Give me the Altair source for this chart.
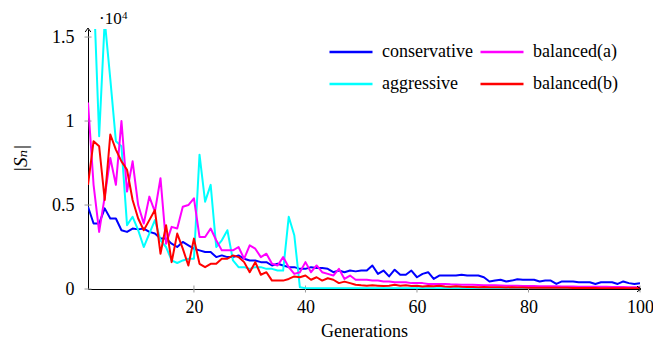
import altair as alt
import pandas as pd

gens = list(range(1, 101))

conservative = [
    0.49, 0.39, 0.39, 0.48, 0.42, 0.42, 0.35, 0.34, 0.36, 0.355,
    0.36, 0.34, 0.33, 0.30, 0.30, 0.27, 0.25, 0.28, 0.26, 0.24,
    0.23, 0.22, 0.22, 0.19, 0.20, 0.19, 0.19, 0.20, 0.18, 0.17,
    0.17, 0.16, 0.16, 0.14, 0.15, 0.14, 0.13, 0.13, 0.12, 0.12,
    0.13, 0.125, 0.125, 0.12, 0.10, 0.11, 0.10, 0.11, 0.105, 0.11,
    0.11, 0.14, 0.09, 0.11, 0.075, 0.115, 0.085, 0.085, 0.11, 0.07,
    0.09, 0.10, 0.06, 0.08, 0.08, 0.08, 0.08, 0.085, 0.08, 0.08,
    0.08, 0.07, 0.045, 0.05, 0.055, 0.045, 0.05, 0.058, 0.055, 0.055,
    0.055, 0.045, 0.05, 0.05, 0.03, 0.045, 0.045, 0.045, 0.04, 0.04,
    0.04, 0.03, 0.04, 0.04, 0.04, 0.03, 0.045, 0.035, 0.03, 0.035,
]

aggressive = [
    2.5, 1.8, 0.91, 1.6, 1.25, 0.88, 0.85, 0.38, 0.43, 0.35,
    0.25, 0.33, 0.41, 0.29, 0.25, 0.17, 0.155, 0.17, 0.18, 0.18,
    0.80, 0.52, 0.62, 0.25, 0.29, 0.35, 0.17, 0.13, 0.13, 0.12,
    0.13, 0.13, 0.12, 0.12, 0.11, 0.11, 0.43, 0.32, 0.01, 0.005,
    0.005, 0.005, 0.005, 0.005, 0.005, 0.005, 0.005, 0.005, 0.005, 0.005,
    0.004, 0.004, 0.004, 0.004, 0.004, 0.004, 0.004, 0.004, 0.004, 0.004,
    0.004, 0.004, 0.004, 0.004, 0.004, 0.004, 0.004, 0.004, 0.004, 0.004,
    0.003, 0.003, 0.003, 0.003, 0.003, 0.003, 0.003, 0.003, 0.003, 0.003,
    0.003, 0.003, 0.003, 0.003, 0.003, 0.003, 0.003, 0.003, 0.003, 0.003,
    0.002, 0.002, 0.002, 0.002, 0.002, 0.002, 0.002, 0.002, 0.002, 0.002,
]

balanced_a = [
    1.11, 0.62, 0.34, 0.55, 0.78, 0.62, 1.0, 0.58, 0.76, 0.50,
    0.39, 0.55, 0.46, 0.66, 0.27, 0.37, 0.36, 0.49, 0.50, 0.54,
    0.31, 0.31, 0.36, 0.29, 0.23, 0.23, 0.23, 0.25, 0.18, 0.26,
    0.24, 0.19, 0.21, 0.15, 0.14, 0.19, 0.13, 0.09, 0.10, 0.16,
    0.10, 0.14, 0.10, 0.09, 0.08, 0.12, 0.06, 0.08, 0.055, 0.055,
    0.055, 0.05, 0.05, 0.045, 0.045, 0.04, 0.04, 0.04, 0.035, 0.035,
    0.035, 0.03, 0.03, 0.03, 0.03, 0.028, 0.027, 0.026, 0.025, 0.025,
    0.024, 0.023, 0.022, 0.022, 0.021, 0.02, 0.02, 0.019, 0.018, 0.018,
    0.018, 0.017, 0.017, 0.016, 0.016, 0.015, 0.015, 0.015, 0.014, 0.014,
    0.014, 0.013, 0.013, 0.013, 0.012, 0.012, 0.012, 0.011, 0.011, 0.011,
]

balanced_b = [
    0.62, 0.88, 0.85, 0.53, 0.92, 0.83, 0.76, 0.71, 0.53, 0.42,
    0.35, 0.41, 0.47, 0.21, 0.38, 0.16, 0.33, 0.24, 0.14, 0.30,
    0.15, 0.13, 0.15, 0.15, 0.18, 0.18, 0.20, 0.19, 0.16, 0.10,
    0.16, 0.085, 0.10, 0.05, 0.05, 0.05, 0.06, 0.075, 0.07, 0.08,
    0.055, 0.07, 0.05, 0.064, 0.055, 0.035, 0.044, 0.035, 0.025, 0.022,
    0.02, 0.022, 0.02, 0.018, 0.02, 0.025, 0.02, 0.022, 0.018, 0.02,
    0.015, 0.018, 0.016, 0.02, 0.015, 0.014, 0.016, 0.013, 0.012, 0.012,
    0.011, 0.012, 0.01, 0.011, 0.01, 0.009, 0.01, 0.009, 0.009, 0.008,
    0.008, 0.008, 0.007, 0.008, 0.007, 0.007, 0.007, 0.006, 0.006, 0.006,
    0.006, 0.006, 0.005, 0.005, 0.005, 0.005, 0.005, 0.005, 0.005, 0.005,
]

series_names = ["conservative", "aggressive", "balanced(a)", "balanced(b)"]
series_colors = ["#0000ff", "#00ffff", "#ff00ff", "#ff0000"]
y_tick_values = [0, 5000, 10000, 15000]
x_tick_values = [20, 40, 60, 80, 100]

rows = []
for name, vals in zip(series_names, [conservative, aggressive, balanced_a, balanced_b]):
    for g, v in zip(gens, vals):
        rows.append({"gen": g, "series": name, "series_b": name, "value": v * 10000})
df = pd.DataFrame(rows)

FONT = "Liberation Serif, Times New Roman, DejaVu Serif, serif"
W, H = 552, 260

x_scale = alt.Scale(domain=[1, 100], nice=False, zero=False)
y_scale = alt.Scale(domain=[0, 15480], nice=False)
scale_left = alt.Scale(domain=series_names[:2], range=series_colors[:2])
scale_right = alt.Scale(domain=series_names[2:], range=series_colors[2:])

x_axis = alt.Axis(values=x_tick_values, title="Generations", grid=False, ticks=False,
                  tickSize=0, labelFont=FONT, labelFontSize=18, labelPadding=9,
                  labelFlush=False, labelColor="black", domainColor="black",
                  titleFont=FONT, titleFontSize=18, titleFontWeight="normal",
                  titleColor="black", titleY=42, titleBaseline="middle")
y_axis = alt.Axis(values=y_tick_values, labelExpr="'' + datum.value/10000",
                  title="|Sₙ|", grid=False, ticks=False, tickSize=0,
                  labelFont=FONT, labelFontSize=18, labelPadding=14,
                  labelColor="black", domainColor="black", labelBaseline="middle",
                  titleFont=FONT, titleFontSize=19, titleFontWeight="normal",
                  titleFontStyle="italic", titleColor="black",
                  titleX=-68, titleY=129, titleAngle=-90,
                  titleAlign="center", titleBaseline="middle")


def make_legend(lx):
    return alt.Legend(orient="none", legendX=lx, legendY=0, direction="vertical",
                      symbolType="stroke", symbolSize=1849, symbolStrokeWidth=2.5,
                      labelFont=FONT, labelFontSize=18, labelColor="black",
                      title=None, rowPadding=-3, labelOffset=8,
                      padding=0, labelLimit=0)


layers = []

# tick marks crossing the axes
ytick_df = pd.DataFrame({"value": y_tick_values})
layers.append(alt.Chart(ytick_df).mark_rule(color="#9a9a9a", strokeWidth=1).encode(
    y=alt.Y("value:Q", scale=y_scale, axis=y_axis),
    x=alt.value(-3.5), x2=alt.value(3.5)))
xtick_df = pd.DataFrame({"gen": x_tick_values})
layers.append(alt.Chart(xtick_df).mark_rule(color="#9a9a9a", strokeWidth=1).encode(
    x=alt.X("gen:Q", scale=x_scale, axis=x_axis),
    y=alt.value(H - 3.5), y2=alt.value(H + 3.5)))

for name in series_names:
    base = (alt.Chart(df).transform_filter(alt.datum.series == name)
            .mark_line(strokeWidth=2, clip=True, strokeJoin="round"))
    if name in series_names[:2]:
        enc = dict(color=alt.Color("series:N", scale=scale_left, legend=make_legend(240)))
    else:
        enc = dict(stroke=alt.Stroke("series_b:N", scale=scale_right, legend=make_legend(391)))
    layers.append(base.encode(
        x=alt.X("gen:Q", scale=x_scale, axis=x_axis),
        y=alt.Y("value:Q", scale=y_scale, axis=y_axis),
        **enc,
    ))

one = pd.DataFrame({"a": [0]})
layers.append(alt.Chart(one).mark_point(shape="M-0.7,1L0,0L0.7,1", filled=False,
                                        color="black", strokeWidth=1, size=64, opacity=1)
              .encode(x=alt.value(0), y=alt.value(-1)))
layers.append(alt.Chart(one).mark_point(shape="M-1,-0.7L0,0L-1,0.7", filled=False,
                                        color="black", strokeWidth=1, size=64, opacity=1)
              .encode(x=alt.value(W + 1), y=alt.value(H)))
layers.append(alt.Chart(one).mark_text(text="·10", font=FONT, fontSize=17, align="left",
                                       baseline="alphabetic", color="black")
              .encode(x=alt.value(11), y=alt.value(-5)))
layers.append(alt.Chart(one).mark_text(text="4", font=FONT, fontSize=11, align="left",
                                       baseline="alphabetic", color="black")
              .encode(x=alt.value(34), y=alt.value(-10)))

chart = alt.layer(*layers).properties(
    width=W, height=H,
    padding={"left": 80, "top": 21, "right": 13, "bottom": 50},
    autosize=alt.AutoSizeParams(type="none"),
    background="white",
).configure(font=FONT).configure_view(stroke=None).configure_legend(
    labelFont=FONT, labelFontSize=18
)

chart.save("out.html", embed_options={"renderer": "svg", "actions": False})
